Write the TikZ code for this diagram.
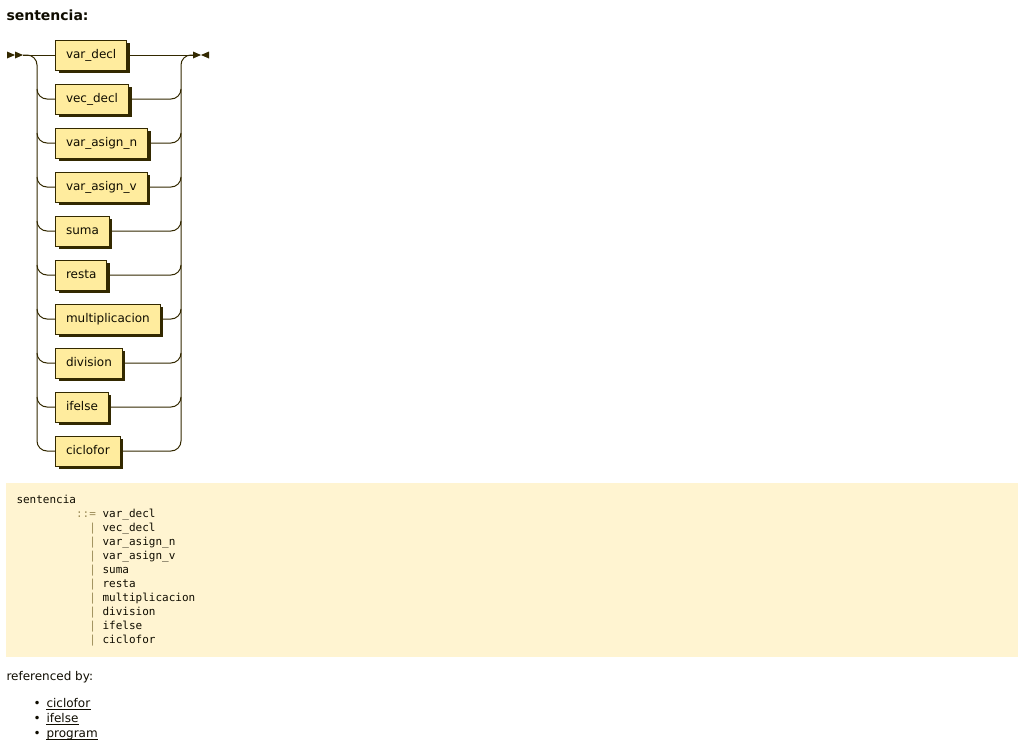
\documentclass[tikz,border=0pt]{standalone}
\usepackage{fontspec}
\setmainfont{DejaVu Sans}
\setmonofont{DejaVu Sans Mono}
\usepackage{tikz}
\usetikzlibrary{positioning}
\usetikzlibrary{shadows}
\usetikzlibrary{calc}

\definecolor{rrline}{HTML}{332900}
\definecolor{rrfill}{HTML}{FFEC9E}
\definecolor{ebnfbg}{HTML}{FFF4D1}
\definecolor{ebnfop}{HTML}{9C8C58}
\definecolor{bodytext}{HTML}{0F0C00}

\begin{document}
\begin{tikzpicture}[x=1pt,y=-1pt,line width=1pt,
                    rail/.style={draw=rrline,rounded corners=10pt},
                    nt node/.style={rectangle,draw=rrline,fill=rrfill,text=bodytext,
                      minimum height=30pt,inner xsep=10.5pt,inner ysep=0pt,
                      text height=9pt,text depth=3pt,
                      font=\fontsize{12}{14}\selectfont,
                      drop shadow={shadow xshift=3pt,shadow yshift=-3pt,fill=rrline,opacity=1}},
                    next node/.style={below=13pt of #1.south west,anchor=north west},
                    code/.style={anchor=base west,inner sep=0pt,text=bodytext,
                      font=\ttfamily\fontsize{11}{14}\selectfont},
                    code op/.style={code,text=ebnfop},
                    plain text/.style={anchor=base west,inner sep=0pt,text=bodytext,
                      font=\fontsize{12}{14}\selectfont}]

  \useasboundingbox[fill=white] (0,0) rectangle (1023,747);

  \node[anchor=base west,inner sep=0pt,text=bodytext,
        font=\bfseries\fontsize{14}{16}\selectfont] (title) at (6,20) {sentencia:};

  % rail diagram
  \coordinate (in) at (23,55);
  \coordinate (out) at (193,55);
  \coordinate (lbus) at (37,55);
  \coordinate (rbus) at (181,55);

  \fill[rrline] (7,51.5) -- (15,55) -- (7,58.5) -- cycle
                (15,51.5) -- (23,55) -- (15,58.5) -- cycle;
  \fill[rrline] (193,51.5) -- (201,55) -- (193,58.5) -- cycle
                (209,51.5) -- (201,55) -- (209,58.5) -- cycle;

  \node[nt node,anchor=west] (vardecl) at (55,55) {var\_decl};
  \node[nt node,next node=vardecl] (vecdecl) {vec\_decl};
  \node[nt node,next node=vecdecl] (asignn) {var\_asign\_n};
  \node[nt node,next node=asignn] (asignv) {var\_asign\_v};
  \node[nt node,next node=asignv] (suma) {suma};
  \node[nt node,next node=suma] (resta) {resta};
  \node[nt node,next node=resta] (mult) {multiplicacion};
  \node[nt node,next node=mult] (division) {division};
  \node[nt node,next node=division] (ifelse) {ifelse};
  \node[nt node,next node=ifelse] (ciclofor) {ciclofor};

  \draw[rail] (in) -- (vardecl) -- (out);
  \draw[rail] (in) -| (lbus |- ciclofor.west) -- (ciclofor.west)
              (ciclofor.east) -| (rbus) -- (out);
  \foreach \b in {vecdecl,asignn,asignv,suma,resta,mult,division,ifelse}
    \draw[rail] ($(lbus |- \b.west)+(0,-10)$) |- (\b.west)
                (\b.east) -| ($(rbus |- \b.east)+(0,-10)$);

  % ebnf
  \fill[ebnfbg] (6,483) rectangle (1018,657);
  \node[code] (lhs) at (16,503) {sentencia};
  \node[code op] (def) at (75.6,517) {::=};
  \foreach \t [count=\i] in {var\_decl,vec\_decl,var\_asign\_n,var\_asign\_v,suma,
                             resta,multiplicacion,division,ifelse,ciclofor}
    \node[code] (alt\i) at (102.1,{503+14*\i}) {\t};
  \foreach \i in {2,...,10}
    \node[code op] (bar\i) at (88.8,{503+14*\i}) {|};

  % references
  \node[plain text] (refby) at (6,680) {referenced by:};
  \node[plain text] (dot1) at (33,707) {•};
  \node[plain text] (dot2) at (33,722) {•};
  \node[plain text] (dot3) at (33,737) {•};
  \node[plain text] (ref1) at (46,707) {ciclofor};
  \node[plain text] (ref2) at (46,722) {ifelse};
  \node[plain text] (ref3) at (46,737) {program};
  \draw[bodytext] ([yshift=-2pt]ref1.base west) -- ([yshift=-2pt]ref1.base east)
                  ([yshift=-2pt]ref2.base west) -- ([yshift=-2pt]ref2.base east)
                  ([yshift=-2pt]ref3.base west) -- ([yshift=-2pt]ref3.base east);
\end{tikzpicture}
\end{document}
